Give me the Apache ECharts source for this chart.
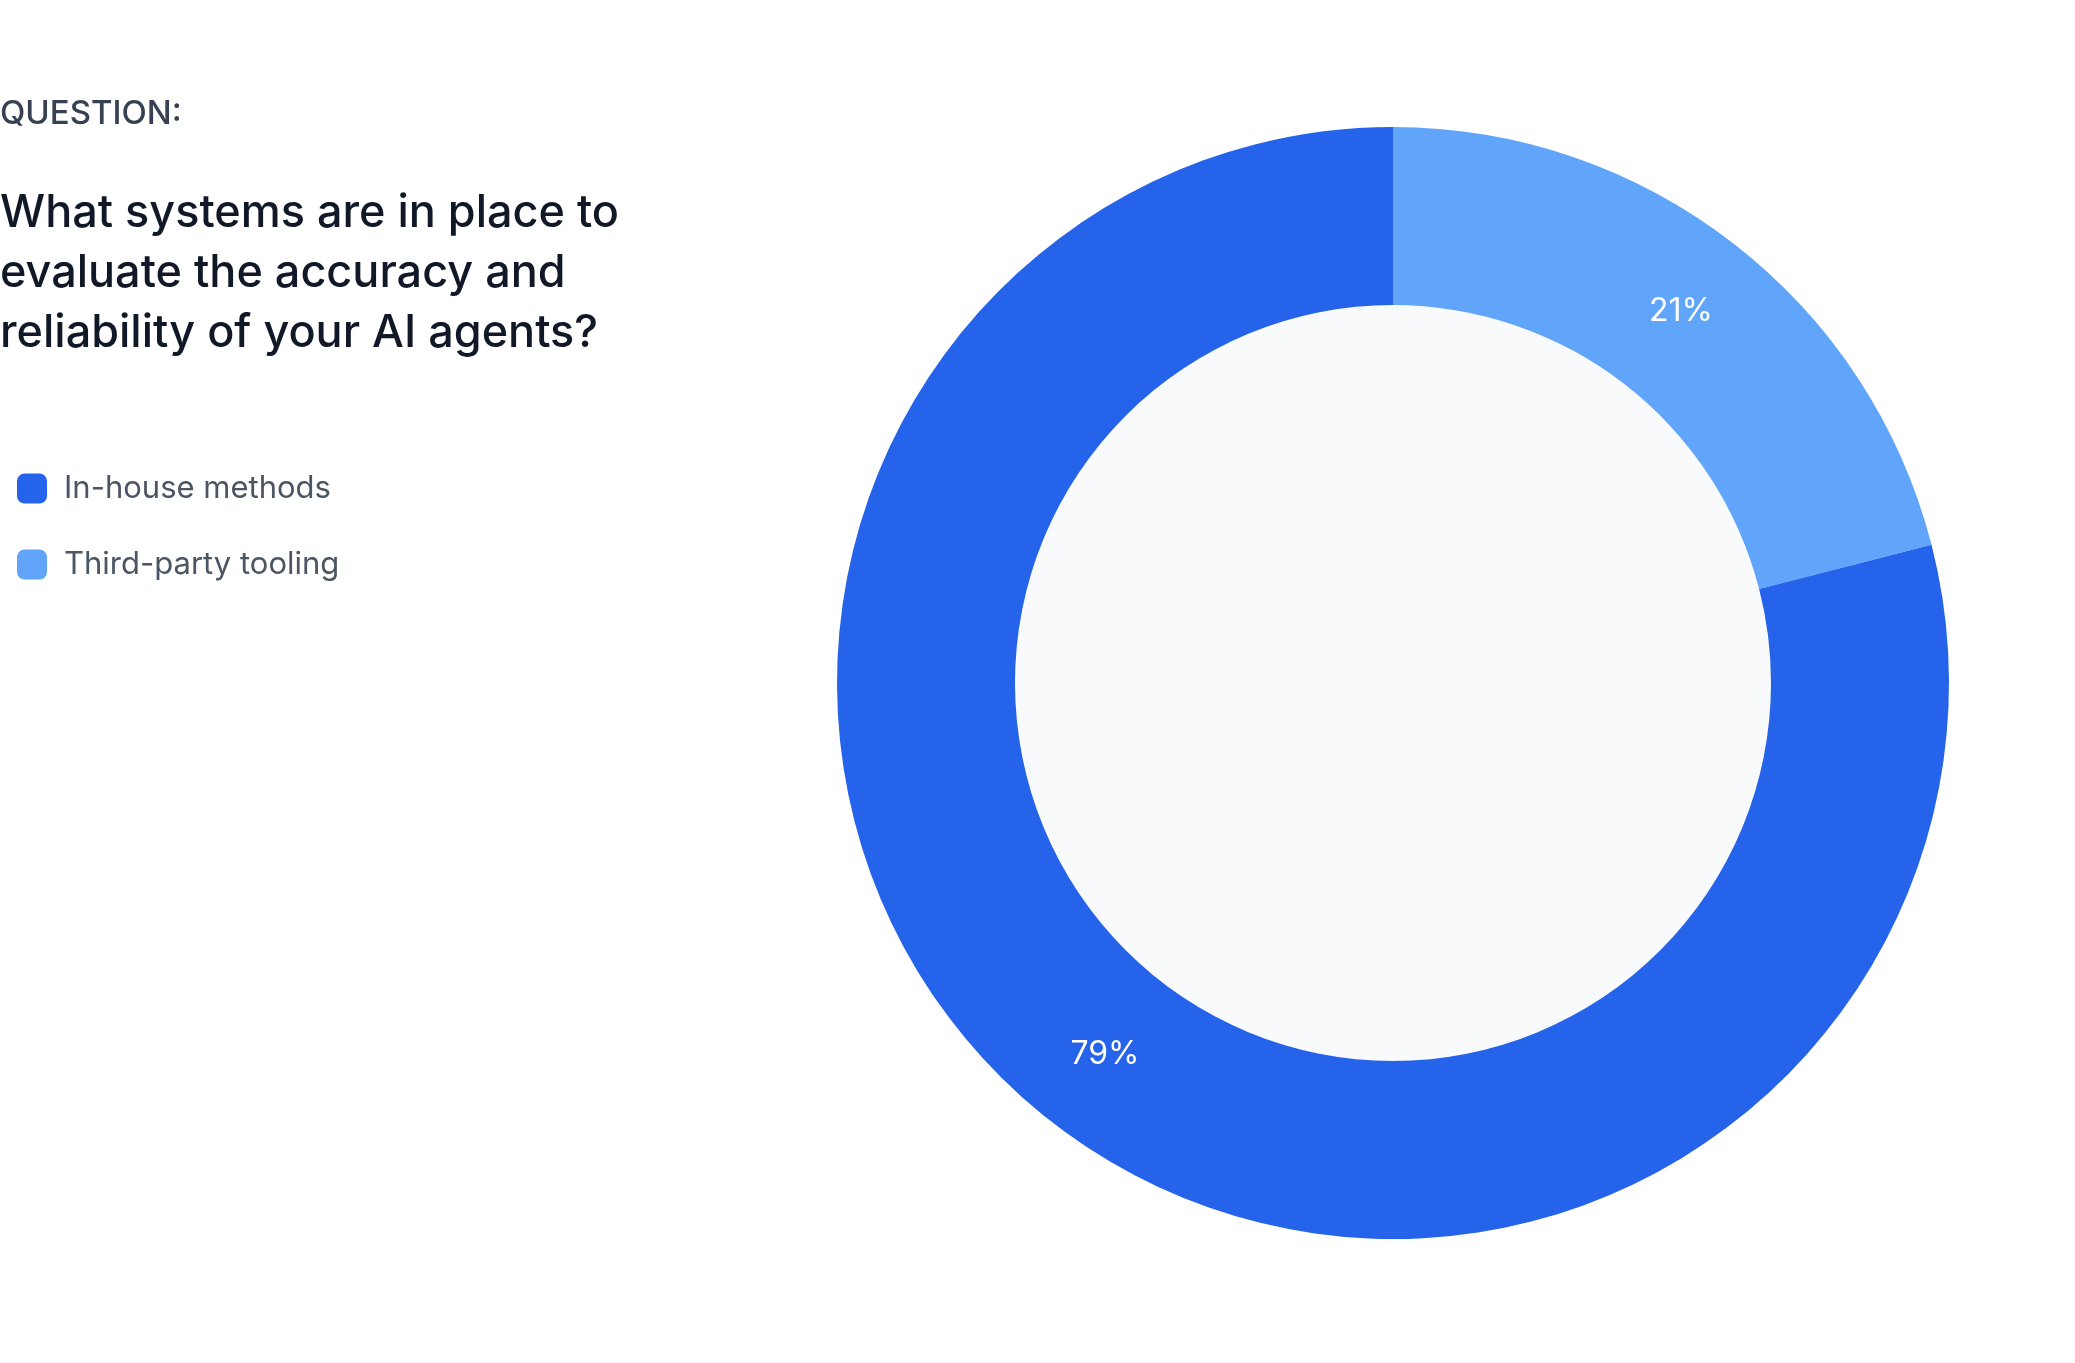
<!DOCTYPE html>
<html><head><meta charset="utf-8">
<script src="https://cdn.jsdelivr.net/npm/echarts@6/dist/echarts.min.js"></script>
<style>html,body{margin:0;padding:0;background:#fff}#c{width:2075px;height:1363px}</style>
</head><body><div id="c"></div>
<script>
const categories = ['In-house methods', 'Third-party tooling'];
const values = [79, 21];
const colors = ['#2563eb', '#60a5fa'];
const chart = echarts.init(document.getElementById('c'));
const data = [
  {name: categories[1], value: values[1], itemStyle: {color: colors[1]}},
  {name: categories[0], value: values[0], itemStyle: {color: colors[0]}}
];
chart.setOption({
  animation: false,
  textStyle: {fontFamily: 'Inter'},
  graphic: [
    {type: 'text', left: 0, top: 98, style: {text: 'QUESTION:', fontSize: 33, fill: '#374151', fontFamily: 'Inter', fontWeight: 500}},
    {type: 'text', left: 0, top: 183, style: {text: 'What systems are in place to\nevaluate the accuracy and\nreliability of your AI agents?', fontSize: 45, lineHeight: 60, fill: '#111827', fontFamily: 'Inter', fontWeight: 500}}
  ],
  legend: {
    orient: 'vertical', left: 12, top: 468,
    data: categories,
    itemWidth: 30, itemHeight: 30, itemGap: 45,
    icon: 'roundRect',
    textStyle: {fontSize: 31, color: '#4b5563', fontFamily: 'Inter', padding: [0, 0, 0, 12]}
  },
  series: [
    {
      type: 'pie', center: [1393, 683], radius: [0, 378], silent: true,
      data: [{value: 1, itemStyle: {color: '#f8fafc'}}],
      label: {show: false}, labelLine: {show: false}, tooltip: {show: false}
    },
    {
      type: 'pie', center: [1393, 683], radius: [378, 556],
      startAngle: 90, clockwise: true,
      data: data,
      label: {show: true, position: 'inside', formatter: '{c}%', color: '#fff', fontSize: 32, fontFamily: 'Inter'},
      labelLine: {show: false}
    }
  ]
});
</script></body></html>
